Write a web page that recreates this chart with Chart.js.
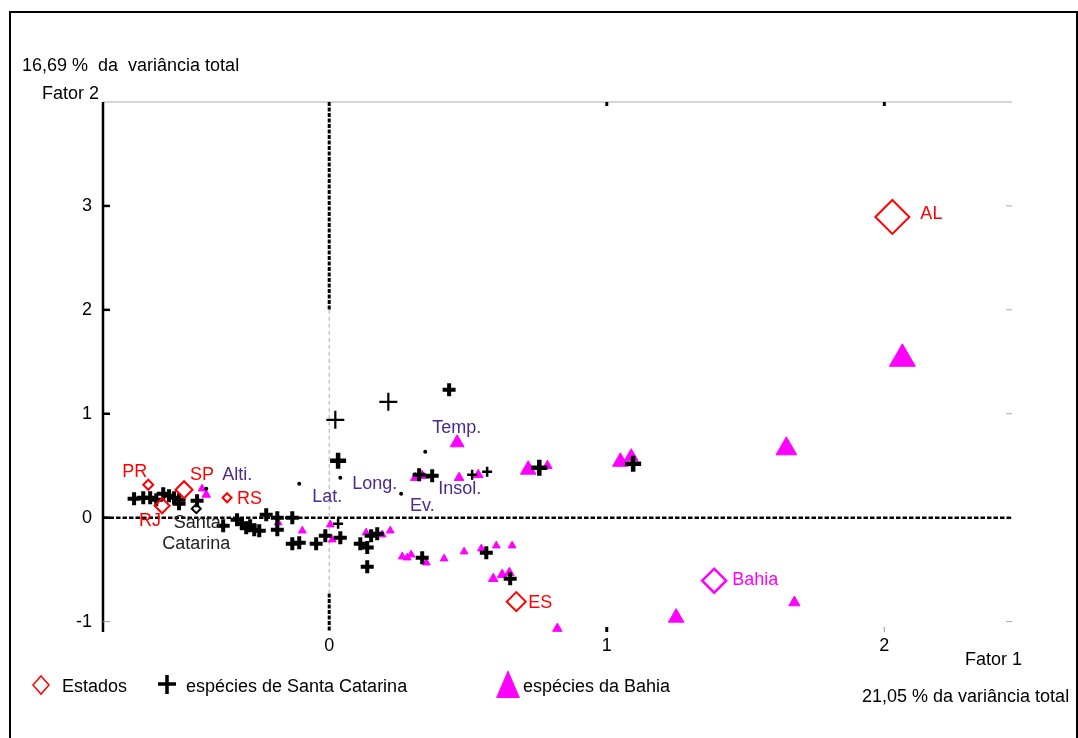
<!DOCTYPE html>
<html>
<head>
<meta charset="utf-8">
<script src="https://cdn.jsdelivr.net/npm/chart.js@4.4.1/dist/chart.umd.min.js"></script>
<style>
html,body{margin:0;padding:0;background:#fff;}
#wrap{position:relative;width:1078px;height:738px;}
</style>
</head>
<body>
<div id="wrap"><canvas id="c"></canvas></div>
<script>
// ---------------- DATA ----------------
const xTicks = [0, 1, 2];
const yTicks = [-1, 0, 1, 2, 3];

// Estados (states)
const estadoNames = ['AL', 'PR', 'SP', 'RJ', 'RS', 'ES'];
const estadoX = [2.029, -0.652, -0.523, -0.602, -0.368, 0.674];
const estadoY = [2.894, 0.317, 0.269, 0.115, 0.192, -0.808];

const bahiaStateName = ['Bahia'];
const bahiaStateX = [1.387];
const bahiaStateY = [-0.606];

const scStateName = ['Santa', 'Catarina'];
const scStateX = [-0.479];
const scStateY = [0.087];

// Environmental variables
const varNames = ['Alti.', 'Lat.', 'Long.', 'Ev.', 'Insol.', 'Temp.'];
const varX = [-0.443, -0.108, 0.040, 0.259, 0.357, 0.346];
const varY = [0.279, 0.327, 0.385, 0.231, 0.394, 0.635];

// espécies de Santa Catarina
const scSpeciesX = [-0.703, -0.670, -0.645, -0.623, -0.598, -0.577, -0.559, -0.541, -0.541, -0.476,
  -0.382, -0.332, -0.314, -0.299, -0.285, -0.270, -0.252, -0.227, -0.187, -0.187,
  -0.133, -0.133, -0.108, -0.047, -0.014, 0.032, 0.040, 0.032, 0.022, 0.213,
  0.432, 0.324, 0.371, 0.515, 0.569, 0.757, 1.095, 0.112, 0.137, 0.151,
  0.173, 0.137, 0.335, 0.566, 0.652];
const scSpeciesY = [0.183, 0.192, 0.192, 0.173, 0.231, 0.212, 0.192, 0.173, 0.135, 0.163,
  -0.077, -0.019, -0.058, -0.096, -0.077, -0.115, -0.125, 0.029, 0.000, -0.115,
  0.000, -0.250, -0.240, -0.250, -0.173, -0.058, -0.192, 0.548, 0.942, 1.115,
  1.231, 0.413, 0.404, 0.413, 0.442, 0.481, 0.519, -0.250, -0.288, -0.173,
  -0.154, -0.471, -0.385, -0.337, -0.587];

// espécies da Bahia
const bahiaSpeciesX = [2.065, 1.647, 1.250, 0.717, 1.049, 1.088, 0.461, 1.676, 0.822, 0.786,
  0.537, 0.468, 0.310, 0.335, -0.458, -0.443, -0.184, -0.097, 0.004, 0.011,
  0.133, 0.191, 0.220, 0.263, 0.281, 0.295, 0.350, 0.414, 0.486, 0.548,
  0.602, 0.659, 0.591, 0.623, 0.649];
const bahiaSpeciesY = [1.529, 0.663, -0.962, 0.462, 0.538, 0.587, 0.721, -0.817, -1.067, 0.500,
  0.413, 0.385, 0.385, 0.404, 0.279, 0.221, -0.048, -0.125, -0.067, -0.212,
  -0.144, -0.163, -0.125, -0.375, -0.385, -0.356, -0.433, -0.394, -0.327, -0.298,
  -0.269, -0.269, -0.587, -0.548, -0.529];

// ---------------- STYLE (marker sizes, label offsets) ----------------
const FONT = '"Liberation Sans", Arial, Helvetica, sans-serif';
const RED = '#ff0000', MAGENTA = '#ff00ff', PURPLE = '#4a2a8c';
const estadoRadius = [17, 5, 8.5, 7.5, 4.5, 9.5];
const estadoLabelOffset = [[28, -3], [-26, -13], [6, -15], [-23, 15], [10, 1], [12, 1]];
const varLabelOffset = [[16, -14], [13, 13], [12, 6], [9, 12], [10, 12], [7, -24]];
// size classes for SC crosses: n normal, b big bold, L large thin, s small
const scClass = ['n','n','n','n','n','n','n','n','n','n',
  'n','n','n','n','n','n','n','n','n','n',
  'n','n','n','n','n','s','n','b','L','L',
  'n','n','n','s','s','b','b','n','n','n',
  'n','n','n','n','n'];
const crossR = {n: 6.5, b: 8, L: 9, s: 5};
const crossW = {n: 4, b: 4.5, L: 2.2, s: 2.5};
const bahiaRadius = [15, 12, 9, 9, 9, 8, 8, 6.5, 5.5, 5.5,
  5.5, 5.5, 5.5, 5.5, 4.5, 5, 4.5, 4.5, 4.5, 4.5,
  4.5, 4.5, 4.5, 4.5, 4.5, 4.5, 4.5, 4.5, 4.5, 4.5,
  4.5, 4.5, 5.5, 5.5, 5.5];

const pts = (xs, ys) => xs.map((x, i) => ({x: x, y: ys[i]}));

// ---------------- PLUGINS ----------------
const decorPlugin = {
  id: 'decor',
  beforeDatasetsDraw(chart) {
    const ctx = chart.ctx, a = chart.chartArea;
    const xs = chart.scales.x, ys = chart.scales.y;
    ctx.save();
    ctx.strokeStyle = '#c8c8c8'; ctx.lineWidth = 1.5;
    ctx.beginPath(); ctx.moveTo(a.left, a.top); ctx.lineTo(a.right, a.top); ctx.stroke();
    ctx.strokeStyle = '#000'; ctx.lineWidth = 2.5;
    ctx.beginPath(); ctx.moveTo(a.left, a.top); ctx.lineTo(a.left, a.bottom); ctx.stroke();
    yTicks.forEach(v => {
      const py = ys.getPixelForValue(v);
      ctx.strokeStyle = v < 0 ? '#999' : '#000';
      ctx.lineWidth = v < 0 ? 1 : 2.5;
      ctx.beginPath(); ctx.moveTo(a.left, py); ctx.lineTo(a.left + 7, py); ctx.stroke();
      ctx.strokeStyle = '#aaa'; ctx.lineWidth = 1;
      ctx.beginPath(); ctx.moveTo(a.right - 6, py); ctx.lineTo(a.right, py); ctx.stroke();
    });
    xTicks.forEach(v => {
      if (v === 0) return;
      const px = xs.getPixelForValue(v);
      ctx.strokeStyle = '#000'; ctx.lineWidth = 3;
      ctx.beginPath(); ctx.moveTo(px, a.top); ctx.lineTo(px, a.top + 4); ctx.stroke();
      ctx.strokeStyle = v === 1 ? '#000' : '#999'; ctx.lineWidth = v === 1 ? 3 : 1;
      ctx.beginPath(); ctx.moveTo(px, a.bottom - 5); ctx.lineTo(px, a.bottom); ctx.stroke();
    });
    const y0 = ys.getPixelForValue(0);
    ctx.strokeStyle = '#000'; ctx.lineWidth = 2.5; ctx.setLineDash([4.5, 2]);
    ctx.beginPath(); ctx.moveTo(a.left, y0); ctx.lineTo(a.right, y0); ctx.stroke();
    const x0 = xs.getPixelForValue(0);
    const yA = ys.getPixelForValue(2), yB = ys.getPixelForValue(-0.73);
    ctx.lineWidth = 3; ctx.setLineDash([4, 1.5]);
    ctx.beginPath(); ctx.moveTo(x0, a.top); ctx.lineTo(x0, yA); ctx.stroke();
    ctx.beginPath(); ctx.moveTo(x0, yB); ctx.lineTo(x0, a.bottom); ctx.stroke();
    ctx.strokeStyle = '#aaa'; ctx.lineWidth = 1; ctx.setLineDash([4, 3]);
    ctx.beginPath(); ctx.moveTo(x0, yA); ctx.lineTo(x0, yB); ctx.stroke();
    ctx.restore();
  },
  afterDraw(chart) {
    const ctx = chart.ctx;
    ctx.save();
    ctx.font = '18px ' + FONT;
    ctx.textBaseline = 'middle';
    ctx.textAlign = 'left';
    const mE = chart.getDatasetMeta(0);
    ctx.fillStyle = RED;
    estadoNames.forEach((n, i) => {
      const p = mE.data[i];
      ctx.fillText(n, p.x + estadoLabelOffset[i][0], p.y + estadoLabelOffset[i][1]);
    });
    const mB = chart.getDatasetMeta(1);
    ctx.fillStyle = MAGENTA;
    ctx.fillText(bahiaStateName[0], mB.data[0].x + 18, mB.data[0].y - 1);
    const mS = chart.getDatasetMeta(2);
    ctx.fillStyle = '#222'; ctx.textAlign = 'center';
    ctx.fillText(scStateName[0], mS.data[0].x + 1, mS.data[0].y + 14);
    ctx.fillText(scStateName[1], mS.data[0].x, mS.data[0].y + 35);
    ctx.textAlign = 'left';
    const mV = chart.getDatasetMeta(3);
    ctx.fillStyle = PURPLE;
    varNames.forEach((n, i) => {
      const p = mV.data[i];
      ctx.fillText(n, p.x + varLabelOffset[i][0], p.y + varLabelOffset[i][1]);
    });
    ctx.fillStyle = '#000';
    ctx.fillText('16,69 %  da  variância total', 22, 66);
    ctx.fillText('Fator 2', 42, 94);
    ctx.fillText('Fator 1', 965, 660);
    ctx.fillText('21,05 % da variância total', 862, 697);
    ctx.strokeStyle = RED; ctx.lineWidth = 1.5;
    ctx.beginPath(); ctx.moveTo(41, 676); ctx.lineTo(49, 685); ctx.lineTo(41, 694); ctx.lineTo(33, 685); ctx.closePath(); ctx.stroke();
    ctx.fillStyle = '#000';
    ctx.fillText('Estados', 62, 687);
    ctx.strokeStyle = '#000'; ctx.lineWidth = 3.5;
    ctx.beginPath(); ctx.moveTo(167, 675); ctx.lineTo(167, 694); ctx.moveTo(158, 684); ctx.lineTo(176, 684); ctx.stroke();
    ctx.fillText('espécies de Santa Catarina', 186, 687);
    ctx.fillStyle = MAGENTA;
    ctx.beginPath(); ctx.moveTo(508, 670); ctx.lineTo(520, 698); ctx.lineTo(496, 698); ctx.closePath(); ctx.fill();
    ctx.fillStyle = '#000';
    ctx.fillText('espécies da Bahia', 523, 687);
    ctx.strokeStyle = '#000'; ctx.lineWidth = 2;
    ctx.beginPath(); ctx.moveTo(10, 738); ctx.lineTo(10, 12); ctx.lineTo(1077, 12); ctx.lineTo(1077, 738); ctx.stroke();
    ctx.restore();
  }
};

// ---------------- CHART ----------------
new Chart(document.getElementById('c'), {
  type: 'scatter',
  data: {
    datasets: [
      { label: 'Estados', data: pts(estadoX, estadoY), pointStyle: 'rectRot',
        pointRadius: estadoRadius, borderColor: RED, backgroundColor: 'rgba(0,0,0,0)', borderWidth: 2 },
      { label: 'Bahia', data: pts(bahiaStateX, bahiaStateY), pointStyle: 'rectRot',
        pointRadius: 12, borderColor: MAGENTA, backgroundColor: 'rgba(0,0,0,0)', borderWidth: 2.5 },
      { label: 'Santa Catarina', data: pts(scStateX, scStateY), pointStyle: 'rectRot',
        pointRadius: 4.5, borderColor: '#000', backgroundColor: 'rgba(0,0,0,0)', borderWidth: 2 },
      { label: 'variáveis', data: pts(varX, varY), pointStyle: 'circle',
        pointRadius: 2, borderColor: '#000', backgroundColor: '#000', borderWidth: 0 },
      { label: 'espécies de Santa Catarina', data: pts(scSpeciesX, scSpeciesY), pointStyle: 'cross',
        pointRadius: scClass.map(c => crossR[c]), borderWidth: scClass.map(c => crossW[c]),
        borderColor: '#000', backgroundColor: '#000' },
      { label: 'espécies da Bahia', data: pts(bahiaSpeciesX, bahiaSpeciesY), pointStyle: 'triangle',
        pointRadius: bahiaRadius, borderColor: MAGENTA, backgroundColor: MAGENTA, borderWidth: 1 }
    ]
  },
  options: {
    responsive: true,
    maintainAspectRatio: false,
    animation: false,
    events: [],
    devicePixelRatio: 1,
    layout: { padding: { left: 10, right: 66, top: 102, bottom: 76 } },
    plugins: { legend: { display: false }, tooltip: { enabled: false } },
    scales: {
      x: {
        type: 'linear', min: -0.815, max: 2.46,
        afterBuildTicks: s => { s.ticks = xTicks.map(v => ({value: v})); },
        afterFit: s => { s.height = 30; },
        grid: { display: false, drawTicks: false },
        border: { display: false },
        ticks: { color: '#000', font: { family: FONT, size: 18 }, padding: 3,
                 callback: v => String(v), maxRotation: 0, autoSkip: false }
      },
      y: {
        type: 'linear', min: -1.1, max: 4.0,
        afterBuildTicks: s => { s.ticks = yTicks.map(v => ({value: v})); },
        afterFit: s => { s.width = 93; },
        grid: { display: false, drawTicks: false },
        border: { display: false },
        ticks: { color: '#000', font: { family: FONT, size: 18 }, padding: 11,
                 callback: v => String(v), autoSkip: false }
      }
    }
  },
  plugins: [decorPlugin]
});
</script>
</body>
</html>
